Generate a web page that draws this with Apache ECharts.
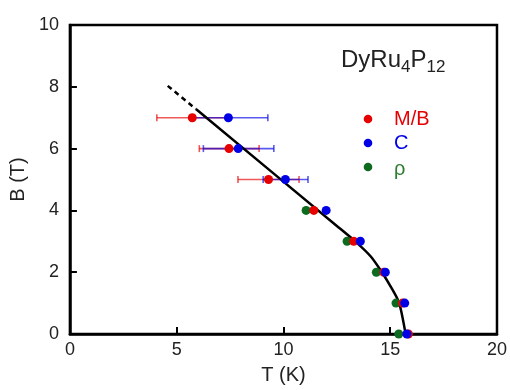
<!DOCTYPE html>
<html>
<head>
<meta charset="utf-8">
<script src="https://cdn.jsdelivr.net/npm/echarts@6/dist/echarts.min.js"></script>
<style>html,body{margin:0;padding:0;background:#fff}#c{width:510px;height:390px}</style>
</head>
<body>
<div id="c"></div>
<script>
// ---- data ----
var xTicks = [0, 5, 10, 15, 20];
var yTicks = [0, 2, 4, 6, 8, 10];

var mbT = [5.73, 7.45, 9.30, 11.42, 13.29, 14.70, 15.58, 15.85];
var mbB = [7, 6, 5, 4, 3, 2, 1, 0];
var mbErrLow  = [4.07, 6.06, 7.87];
var mbErrHigh = [7.39, 8.86, 10.73];
var mbErrB    = [7, 6, 5];

var cT = [7.42, 7.88, 10.09, 12.00, 13.60, 14.77, 15.68, 15.78];
var cB = [7, 6, 5, 4, 3, 2, 1, 0];
var cErrLow  = [5.65, 6.25, 9.05];
var cErrHigh = [9.27, 9.55, 11.15];
var cErrB    = [7, 6, 5];

var rhoT = [11.06, 12.98, 14.35, 15.27, 15.40];
var rhoB = [4, 3, 2, 1, 0];

var lineT = [5.90, 12.60, 13.44, 14.10, 14.61, 15.05, 15.42, 15.72];
var lineB = [7.28, 3.44, 2.95, 2.50, 2.00, 1.50, 1.00, 0.00];

var dashT = [4.58, 5.90];
var dashB = [8.03, 7.28];

var seriesNames = ['M/B', 'C', '\u03C1'];
var colors = ['#e60000', '#0000e6', '#0d6b1f'];

// ---- helpers ----
function zip(a, b) { return a.map(function (v, i) { return [v, b[i]]; }); }
function errData(lo, hi, y) { return lo.map(function (v, i) { return [v, hi[i], y[i]]; }); }

function errRender(color) {
  return function (params, api) {
    var p1 = api.coord([api.value(0), api.value(2)]);
    var p2 = api.coord([api.value(1), api.value(2)]);
    var h = 3.5;
    var st = { stroke: color, lineWidth: 1.6, opacity: 0.65 };
    return {
      type: 'group',
      children: [
        { type: 'line', shape: { x1: p1[0], y1: p1[1], x2: p2[0], y2: p2[1] }, style: st },
        { type: 'line', shape: { x1: p1[0], y1: p1[1] - h, x2: p1[0], y2: p1[1] + h }, style: st },
        { type: 'line', shape: { x1: p2[0], y1: p2[1] - h, x2: p2[0], y2: p2[1] + h }, style: st }
      ]
    };
  };
}

var font = 'Liberation Sans, Arial, sans-serif';
var chart = echarts.init(document.getElementById('c'), null, { renderer: 'canvas' });

var option = {
  animation: false,
  backgroundColor: '#fff',
  grid: { left: 69, right: 13, top: 25, bottom: 55, show: true, borderColor: '#000', borderWidth: 2.5, backgroundColor: 'transparent' },
  xAxis: {
    type: 'value', min: xTicks[0], max: xTicks[xTicks.length - 1], interval: 5,
    name: 'T (K)', nameLocation: 'middle', nameGap: 31,
    nameTextStyle: { fontFamily: font, fontSize: 20, color: '#222' },
    axisLine: { lineStyle: { color: '#000', width: 2.5 } },
    axisTick: { inside: true, length: 7, lineStyle: { color: '#000', width: 2 } },
    axisLabel: { fontFamily: font, fontSize: 18, color: '#222', margin: 7 },
    splitLine: { show: false }
  },
  yAxis: {
    type: 'value', min: yTicks[0], max: yTicks[yTicks.length - 1], interval: 2,
    name: 'B (T)', nameLocation: 'middle', nameGap: 38,
    nameTextStyle: { fontFamily: font, fontSize: 20, color: '#222' },
    axisLine: { lineStyle: { color: '#000', width: 2.5 } },
    axisTick: { inside: true, length: 7, lineStyle: { color: '#000', width: 2 } },
    axisLabel: { fontFamily: font, fontSize: 18, color: '#222', margin: 11 },
    splitLine: { show: false }
  },
  graphic: [
    {
      type: 'text', left: 341, top: 48,
      style: {
        text: '{a|DyRu}{b|4}{a|P}{b|12}',
        rich: {
          a: { fontFamily: font, fontSize: 24, lineHeight: 31, verticalAlign: 'middle', fill: '#222' },
          b: { fontFamily: font, fontSize: 17, lineHeight: 17, verticalAlign: 'bottom', fill: '#222' }
        }
      }
    },
    { type: 'circle', shape: { cx: 368, cy: 119, r: 4.3 }, style: { fill: colors[0] } },
    { type: 'circle', shape: { cx: 368, cy: 143, r: 4.3 }, style: { fill: colors[1] } },
    { type: 'circle', shape: { cx: 368, cy: 167, r: 4.3 }, style: { fill: colors[2] } },
    { type: 'text', x: 394, y: 119, style: { text: seriesNames[0], fontFamily: font, fontSize: 20, fill: colors[0], verticalAlign: 'middle' } },
    { type: 'text', x: 394, y: 143, style: { text: seriesNames[1], fontFamily: font, fontSize: 20, fill: colors[1], verticalAlign: 'middle' } },
    { type: 'text', x: 394, y: 169, style: { text: seriesNames[2], fontFamily: font, fontSize: 20, fill: '#2e7d32', verticalAlign: 'middle' } }
  ],
  series: [
    {
      type: 'line', data: zip(dashT, dashB), showSymbol: false, symbol: 'none',
      lineStyle: { color: '#000', width: 2.5, type: [5, 4] }, z: 3
    },
    {
      type: 'line', data: zip(lineT, lineB), showSymbol: false, symbol: 'none', smooth: 0.25,
      lineStyle: { color: '#000', width: 2.5 }, z: 3
    },
    { type: 'custom', renderItem: errRender(colors[0]), data: errData(mbErrLow, mbErrHigh, mbErrB), z: 2 },
    { type: 'custom', renderItem: errRender(colors[1]), data: errData(cErrLow, cErrHigh, cErrB), z: 2 },
    { name: seriesNames[2], type: 'scatter', data: zip(rhoT, rhoB), symbolSize: 9, itemStyle: { color: colors[2], opacity: 1 }, z: 4 },
    { name: seriesNames[0], type: 'scatter', data: zip(mbT, mbB), symbolSize: 9, itemStyle: { color: colors[0], opacity: 1 }, z: 5 },
    { name: seriesNames[1], type: 'scatter', data: zip(cT, cB), symbolSize: 9, itemStyle: { color: colors[1], opacity: 1 }, z: 6 }
  ]
};
chart.setOption(option);
</script>
</body>
</html>
